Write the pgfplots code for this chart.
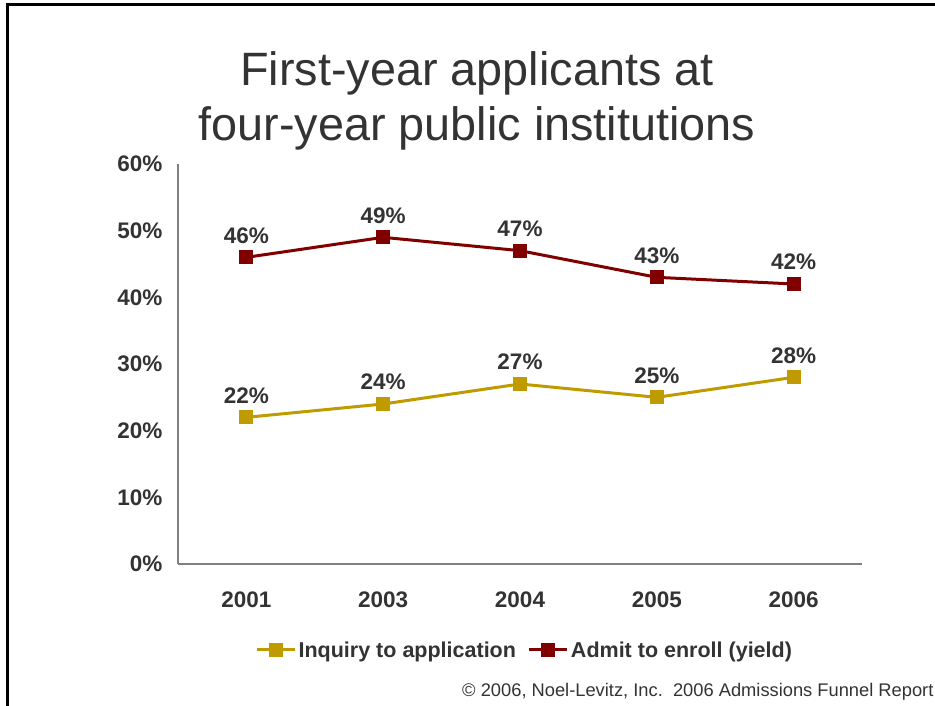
\documentclass[border=0pt]{standalone}
\usepackage{pgfplots}
\pgfplotsset{compat=1.18}
\usepackage{fontspec}
\setmainfont{Liberation Sans}
\definecolor{gold}{RGB}{192,155,0}
\definecolor{dred}{RGB}{128,0,0}
\definecolor{txt}{RGB}{51,51,51}
\definecolor{axg}{RGB}{128,128,128}
\begin{document}
\begin{tikzpicture}[x=1pt,y=1pt]
\useasboundingbox (0,0) rectangle (935,706);
\draw[line width=3pt,black] (7,0) -- (7,701) -- (935,701);
\node[txt,align=center,font=\fontsize{46.8}{55}\selectfont] at (477,605) {First-year applicants at\\four-year public institutions};
\node[txt,anchor=base east,font=\fontsize{18.3}{20}\selectfont] at (937,9) {\textcopyright{} 2006, Noel-Levitz, Inc.\ \ 2006 Admissions Funnel Report};
\begin{axis}[
  at={(178pt,142pt)}, anchor=south west,
  scale only axis, width=684pt, height=400pt,
  xmin=-0.5, xmax=4.5, ymin=0, ymax=60,
  axis x line*=bottom, axis y line*=left,
  axis line style={axg, line width=1.2pt, -},
  xtick={0,1,2,3,4}, xticklabels={2001,2003,2004,2005,2006},
  ytick={0,10,20,30,40,50,60},
  yticklabels={0\%,10\%,20\%,30\%,40\%,50\%,60\%},
  major tick length=0pt,
  /pgf/number format/assume math mode=true,
  ticklabel style={txt, font=\fontsize{22.5}{25}\selectfont\bfseries},
  yticklabel style={xshift=-12pt},
  xticklabel style={yshift=-24pt},
  nodes near coords={\pgfmathprintnumber{\pgfplotspointmeta}\%},
  every node near coord/.append style={txt, font=\fontsize{22.5}{25}\selectfont\bfseries, anchor=south, yshift=9pt},
  legend columns=2,
  legend style={at={(0.507,-0.215)}, anchor=center, draw=none, fill=none,
     font=\fontsize{21.5}{24}\selectfont\bfseries, text=txt,
     /tikz/every even column/.append style={column sep=10pt}},
  legend image code/.code={\draw[#1, mark repeat=2, mark phase=2] plot coordinates {(0pt,0pt) (19pt,0pt) (38pt,0pt)};},
  clip=false,
]
\addplot[gold, line width=3pt, mark=square*, mark size=5.5pt, mark options={solid}]
  coordinates {(0,22) (1,24) (2,27) (3,25) (4,28)};
\addlegendentry{Inquiry to application}
\addplot[dred, line width=3pt, mark=square*, mark size=5.5pt, mark options={solid}]
  coordinates {(0,46) (1,49) (2,47) (3,43) (4,42)};
\addlegendentry{Admit to enroll (yield)}
\end{axis}
\end{tikzpicture}
\end{document}
